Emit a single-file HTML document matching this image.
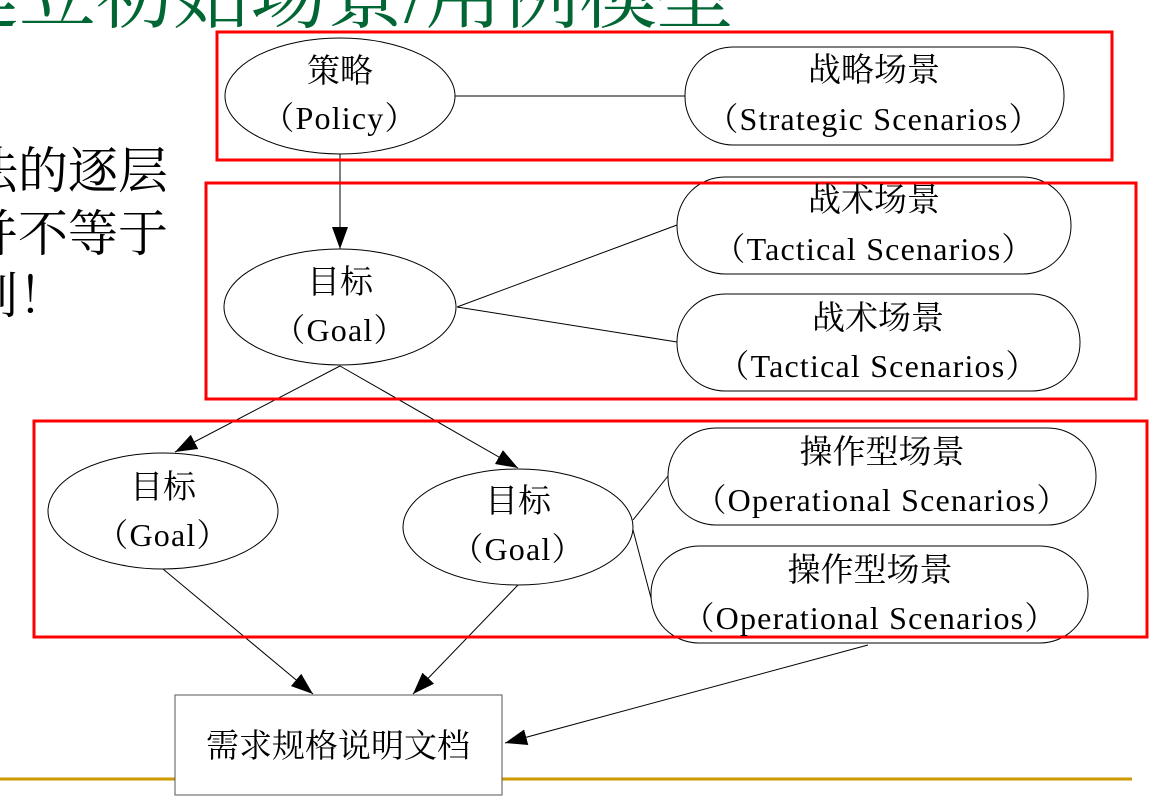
<!DOCTYPE html>
<html><head><meta charset="utf-8"><style>
html,body{margin:0;padding:0;background:#fff;width:1164px;height:801px;overflow:hidden;}
svg{display:block;}
</style></head><body>
<svg width="1164" height="801" xmlns="http://www.w3.org/2000/svg" font-family="'Liberation Serif','Noto Serif CJK SC',serif">
<defs><marker id="a" markerWidth="22" markerHeight="16" refX="22" refY="8" orient="auto" markerUnits="userSpaceOnUse" viewBox="0 0 22 16"><path d="M0,0 L22,8 L0,16 z" fill="#000"/></marker></defs>
<text x="-58" y="22" font-size="77" fill="#006633">建立初始场景/用例模型</text>
<g font-size="50" fill="#000">
<text x="-32" y="188">法的逐层</text>
<text x="-32" y="251">并不等于</text>
<text x="-32" y="313">划！</text>
</g>
<line x1="0" y1="779" x2="1132" y2="779" stroke="#cc9900" stroke-width="3"/>
<g fill="none" stroke="#000" stroke-width="1">
<ellipse cx="340" cy="96" rx="115" ry="58" fill="#fff"/>
<ellipse cx="340" cy="307" rx="116" ry="58" fill="#fff"/>
<ellipse cx="163" cy="511" rx="115" ry="58" fill="#fff"/>
<ellipse cx="518" cy="527" rx="115" ry="58" fill="#fff"/>
<rect x="685" y="47" width="379" height="98" rx="48" fill="#fff"/>
<rect x="677" y="177" width="394" height="97" rx="48" fill="#fff"/>
<rect x="677" y="294" width="403" height="97" rx="48" fill="#fff"/>
<rect x="668" y="428" width="428" height="97" rx="48" fill="#fff"/>
<rect x="651" y="546" width="437" height="97" rx="48" fill="#fff"/>
<rect x="175" y="695" width="327" height="100" fill="#fff" stroke="#555"/>
<line x1="455" y1="96" x2="685" y2="96"/>
<line x1="340" y1="154" x2="340" y2="249" marker-end="url(#a)"/>
<line x1="457" y1="307" x2="677" y2="225"/>
<line x1="457" y1="307" x2="677" y2="342"/>
<line x1="340" y1="366" x2="175" y2="452" marker-end="url(#a)"/>
<line x1="340" y1="366" x2="518" y2="468" marker-end="url(#a)"/>
<line x1="633" y1="520" x2="668" y2="476"/>
<line x1="633" y1="530" x2="651" y2="598"/>
<line x1="163" y1="569" x2="313" y2="694" marker-end="url(#a)"/>
<line x1="518" y1="585" x2="413" y2="694" marker-end="url(#a)"/>
<line x1="868" y1="645" x2="505" y2="743" marker-end="url(#a)"/>
</g>
<g fill="none" stroke="#f00" stroke-width="3">
<rect x="217" y="32" width="895" height="128"/>
<rect x="206" y="183" width="930" height="216"/>
<rect x="34" y="421" width="1113" height="216"/>
</g>
<g font-size="33" fill="#000" text-anchor="middle" font-family="'Noto Serif CJK SC','Liberation Serif',serif">
<text x="340" y="82">策略</text>
<text x="340" y="293">目标</text>
<text x="163" y="498">目标</text>
<text x="518" y="512">目标</text>
<text x="874" y="81">战略场景</text>
<text x="874" y="211">战术场景</text>
<text x="878" y="329">战术场景</text>
<text x="882" y="463">操作型场景</text>
<text x="870" y="581">操作型场景</text>
<text x="338" y="757" font-size="33">需求规格说明文档</text>
</g>
<g font-size="32" fill="#000" text-anchor="middle" letter-spacing="1.2">
<text x="340" y="129">（Policy）</text>
<text x="340" y="341">（Goal）</text>
<text x="163" y="546">（Goal）</text>
<text x="518" y="560">（Goal）</text>
<text x="874" y="130">（Strategic Scenarios）</text>
<text x="874" y="260">（Tactical Scenarios）</text>
<text x="878" y="377">（Tactical Scenarios）</text>
<text x="882" y="511">（Operational Scenarios）</text>
<text x="870" y="629">（Operational Scenarios）</text>
</g>
</svg>
</body></html>
